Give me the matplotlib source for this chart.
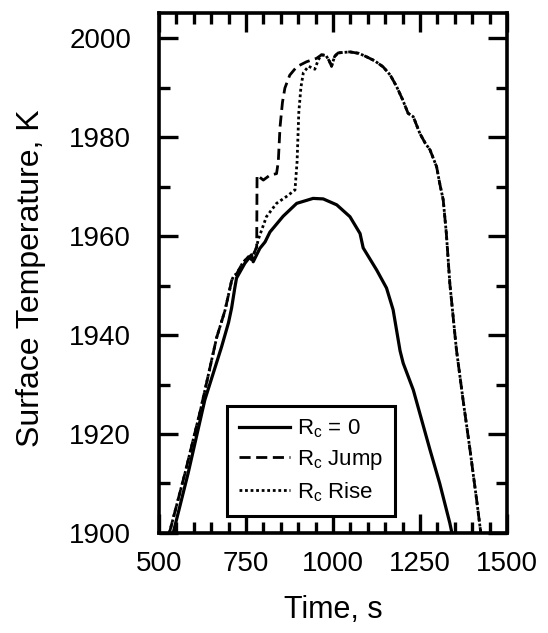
import matplotlib
matplotlib.use("Agg")
import matplotlib.pyplot as plt
from matplotlib.ticker import MultipleLocator

plt.rcParams['font.family'] = ['Liberation Sans', 'DejaVu Sans']
plt.rcParams['mathtext.default'] = 'regular'

# Rc = 0 (solid)
t_zero = [541, 584, 632, 680, 700, 709, 718, 723, 747, 766, 771, 790, 805, 819,
          857, 896, 943, 972, 1011, 1049, 1078, 1087, 1126, 1154, 1173, 1193,
          1202, 1231, 1279, 1307, 1336, 1342]
T_zero = [1900, 1912.1, 1926.9, 1937.6, 1942.5, 1945.5, 1949.5, 1951.5, 1954.5,
          1956.2, 1954.8, 1957.5, 1958.8, 1960.8, 1964.0, 1966.6, 1967.6, 1967.5,
          1966.3, 1963.9, 1960.5, 1957.6, 1953.1, 1949.5, 1945.1, 1936.8, 1934.3,
          1928.9, 1916.8, 1910.0, 1902.0, 1900]

# Shared early rise of Jump / Rise cases
t_early = [530, 575, 620, 666, 690, 709, 715, 723, 740, 757, 766, 775, 781]
T_early = [1900, 1912.1, 1925.0, 1939.5, 1945.0, 1951.0, 1952.0, 1952.3, 1954.5,
           1955.8, 1955.2, 1956.8, 1957.8]

# Shared late part (peak and decay)
t_late = [980, 990, 996, 1005, 1015, 1049, 1075, 1097, 1120, 1144, 1165, 1183,
          1200, 1216, 1231, 1250, 1265, 1279, 1298, 1307, 1317, 1326, 1336, 1355,
          1374, 1394, 1413, 1425]
T_late = [1996.5, 1995.3, 1994.3, 1996.3, 1997.0, 1997.2, 1996.9, 1996.2, 1995.4,
          1994.2, 1992.5, 1990.2, 1987.6, 1984.8, 1984.1, 1980.7, 1978.8, 1977.4,
          1974.0, 1970.6, 1967.3, 1960.5, 1950.4, 1937.0, 1926.9, 1916.8, 1906.7,
          1900]

# Rc Jump middle part
t_jump_mid = [782, 800, 819, 838, 843, 848, 855, 862, 876, 896, 924, 953, 967]
T_jump_mid = [1972.3, 1971.3, 1972.3, 1972.6, 1975.0, 1982.0, 1987.0, 1989.9,
              1992.5, 1994.2, 1995.2, 1995.9, 1996.6]

# Rc Rise middle part
t_rise_mid = [785, 809, 838, 867, 891, 897, 902, 908, 915, 930, 948, 958, 967]
T_rise_mid = [1959.2, 1963.9, 1966.6, 1968.0, 1969.3, 1975.0, 1985.0, 1990.0,
              1993.0, 1994.3, 1993.7, 1995.6, 1996.6]

t_jump = t_early + t_jump_mid + t_late
T_jump = T_early + T_jump_mid + T_late
t_rise = t_early + t_rise_mid + t_late
T_rise = T_early + T_rise_mid + T_late

fig = plt.figure(figsize=(5.48, 6.33), dpi=100)
ax = fig.add_axes([0.290, 0.158, 0.635, 0.821])

ax.plot(t_zero, T_zero, color='black', lw=2.3, label=r'R$_c$ = 0')
ax.plot(t_jump, T_jump, color='black', lw=2.0, ls=(0, (4, 2)), label=r'R$_c$ Jump')
ax.plot(t_rise, T_rise, color='black', lw=2.0, ls=(0, (1, 1)), label=r'R$_c$ Rise')

ax.set_xlim(500, 1500)
ax.set_ylim(1900, 2005)
ax.xaxis.set_major_locator(MultipleLocator(250))
ax.xaxis.set_minor_locator(MultipleLocator(50))
ax.yaxis.set_major_locator(MultipleLocator(20))
ax.yaxis.set_minor_locator(MultipleLocator(10))
ax.tick_params(which='both', direction='in', top=True, right=True, width=2.4,
               color='black')
ax.tick_params(which='major', length=14)
ax.tick_params(which='minor', length=8)
ax.tick_params(axis='both', labelsize=20)
ax.tick_params(axis='y', pad=20)
ax.tick_params(axis='x', pad=13)
for s in ax.spines.values():
    s.set_linewidth(2.6)

ax.set_xlabel('Time, s', fontsize=22, labelpad=13)
ax.set_ylabel('Surface Temperature, K', fontsize=23)
ax.yaxis.set_label_coords(-0.325, 0.49)

leg = ax.legend(loc='lower left', bbox_to_anchor=(0.195, 0.033), fontsize=16,
                frameon=True, fancybox=False, edgecolor='black', framealpha=1,
                handlelength=2.3, handletextpad=0.3, labelspacing=0.35,
                borderaxespad=0, borderpad=0.55)
leg.get_frame().set_linewidth(2.2)

fig.savefig('out.png', dpi=100)
